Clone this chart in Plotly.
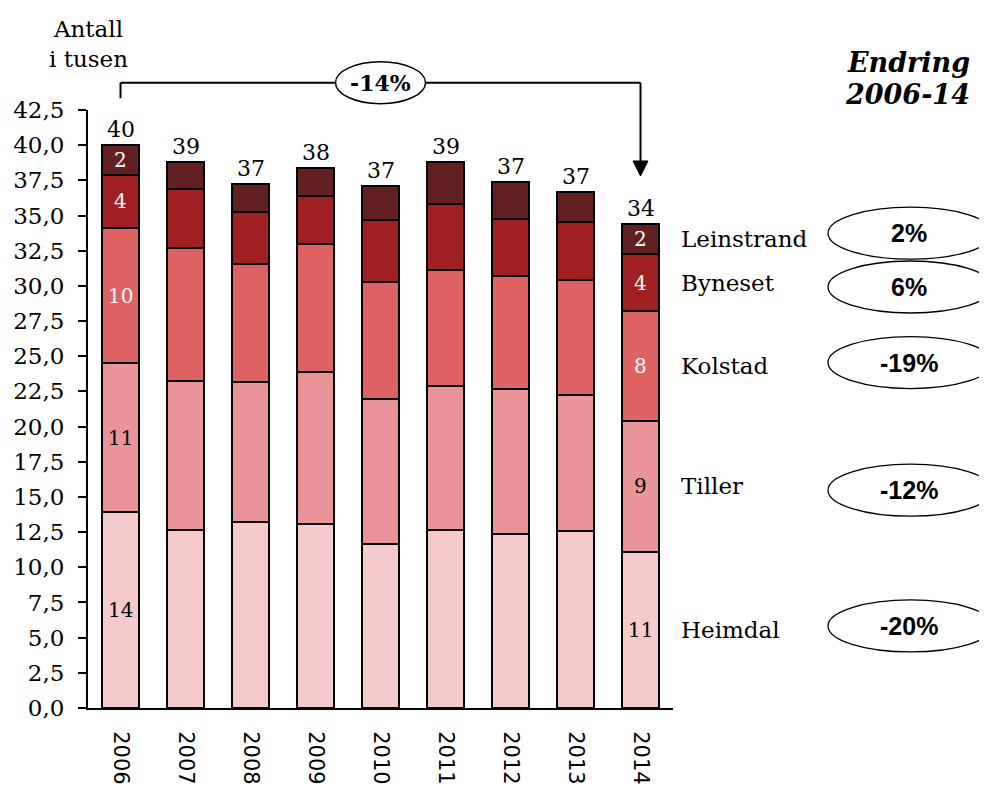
import plotly.graph_objects as go

# ---------------- data (thousands) ----------------
years = [2006, 2007, 2008, 2009, 2010, 2011, 2012, 2013, 2014]
districts = ["Heimdal", "Tiller", "Kolstad", "Byneset", "Leinstrand"]
heimdal = [13.9, 12.62, 13.19, 13.07, 11.65, 12.62, 12.36, 12.6, 11.1]
tiller = [10.6, 10.65, 9.96, 10.79, 10.34, 10.25, 10.32, 9.68, 9.33]
kolstad = [9.63, 9.4, 8.38, 9.14, 8.28, 8.25, 8.02, 8.13, 7.81]
byneset = [3.78, 4.25, 3.72, 3.39, 4.39, 4.7, 4.08, 4.13, 4.0]
leinstrand = [2.12, 1.89, 2.02, 1.99, 2.44, 2.99, 2.61, 2.14, 2.16]
change_labels = ["-20%", "-12%", "-19%", "6%", "2%"]   # Heimdal..Leinstrand
total_change_label = "-14%"
y_tick_values = [0, 2.5, 5, 7.5, 10, 12.5, 15, 17.5, 20, 22.5, 25, 27.5,
                 30, 32.5, 35, 37.5, 40, 42.5]
y_title = "Antall<br>i tusen"
change_title = ["Endring", "2006-14"]

# ---------------- styles ----------------
series = [heimdal, tiller, kolstad, byneset, leinstrand]
colors = ["#F4CACB", "#E99496", "#DF6263", "#A01F21", "#622120"]
inner_text_colors = ["black", "black", "white", "white", "white"]
ellipse_shift_px = [-4, 4, -3, 4.5, -6]   # small vertical nudges of the ellipses

SERIF = "DejaVu Serif"
SANS = "DejaVu Sans"
ARIAL = "Liberation Sans"

OFF = 8                      # page body margin
W, H = 987 - OFF, 793 - OFF
ML, MT = 80, 102
PW, PH = 585, 598
MR = W - ML - PW
MB = H - MT - PH
PLOT_RIGHT = OFF + ML + PW   # in page pixels
PLOT_TOP = OFF + MT
XR = (2005.5, 2014.5)
YR = (0, 42.5)


def xp(v):
    return (v - XR[0]) / (XR[1] - XR[0])


def yp(v):
    return (v - YR[0]) / (YR[1] - YR[0])


def px_x(dx):
    return dx / PW


def px_y(dy):
    return dy / PH


fig = go.Figure()
for name, vals, col in zip(districts, series, colors):
    fig.add_trace(go.Bar(
        x=years, y=vals, name=name, width=0.56,
        marker=dict(color=col, line=dict(color="black", width=2)),
        hoverinfo="x+y+name",
    ))

annotations = []
shapes = []

# totals above bars
totals = [sum(s[i] for s in series) for i in range(len(years))]
for yr, tot in zip(years, totals):
    annotations.append(dict(x=yr, y=tot, xref="x", yref="y", text=str(round(tot)),
                            showarrow=False, yanchor="bottom", yshift=1,
                            font=dict(family=SERIF, size=22, color="black")))

# inner labels for first and last year
for idx in (0, len(years) - 1):
    base = 0
    for k, vals in enumerate(series):
        v = vals[idx]
        annotations.append(dict(x=years[idx], y=base + v / 2, xref="x", yref="y",
                                text=str(round(v)), showarrow=False,
                                xanchor="center", yanchor="middle",
                                font=dict(family=SERIF, size=20,
                                          color=inner_text_colors[k])))
        base += v

# district names and change ellipses on the right
base = 0
last = len(years) - 1
ex0 = 1 + px_x(828 - PLOT_RIGHT)
ex1 = 1 + px_x(993 - PLOT_RIGHT)
for k, (name, vals) in enumerate(zip(districts, series)):
    mid = base + vals[last] / 2
    base += vals[last]
    annotations.append(dict(x=1, y=yp(mid), xref="paper", yref="paper", text=name,
                            showarrow=False, xanchor="left", yanchor="middle",
                            xshift=6,
                            font=dict(family=SERIF, size=23, color="black")))
    cy = yp(mid) - px_y(ellipse_shift_px[k])
    shapes.append(dict(type="circle", xref="paper", yref="paper",
                       x0=ex0, x1=ex1, y0=cy - px_y(26), y1=cy + px_y(26),
                       line=dict(color="black", width=1.3), fillcolor="white",
                       layer="above"))
    annotations.append(dict(x=(ex0 + ex1) / 2 - px_x(1), y=cy, xref="paper", yref="paper",
                            text="<b>" + change_labels[k] + "</b>",
                            showarrow=False, xanchor="center", yanchor="middle",
                            font=dict(family=ARIAL, size=25, color="black")))

# bracket with arrow from first to last bar
y_line = 1 + px_y(PLOT_TOP - 82.7)
y_left_end = 1 + px_y(PLOT_TOP - 98.3)
y_tip = yp(totals[-1]) + px_y(48)
tri_h = px_y(15)
tri_w = px_x(7.5)
x_first, x_last = xp(years[0]), xp(years[-1])
shapes.append(dict(type="line", xref="paper", yref="paper", x0=x_first, x1=x_first,
                   y0=y_left_end, y1=y_line, line=dict(color="black", width=2)))
shapes.append(dict(type="line", xref="paper", yref="paper", x0=x_first, x1=x_last,
                   y0=y_line, y1=y_line, line=dict(color="black", width=2)))
shapes.append(dict(type="line", xref="paper", yref="paper", x0=x_last, x1=x_last,
                   y0=y_line, y1=y_tip + tri_h - px_y(1), line=dict(color="black", width=2)))
shapes.append(dict(type="path", xref="paper", yref="paper",
                   path=f"M {x_last - tri_w} {y_tip + tri_h} L {x_last + tri_w} {y_tip + tri_h} L {x_last} {y_tip} Z",
                   fillcolor="black", line=dict(color="black", width=1)))
x_mid = xp((years[0] + years[-1]) / 2)
shapes.append(dict(type="circle", xref="paper", yref="paper",
                   x0=x_mid - px_x(45), x1=x_mid + px_x(45),
                   y0=y_line - px_y(21), y1=y_line + px_y(21),
                   line=dict(color="black", width=1.5), fillcolor="white", layer="above"))
annotations.append(dict(x=x_mid, y=y_line, xref="paper", yref="paper",
                        text="<b>" + total_change_label + "</b>", showarrow=False,
                        xanchor="center", yanchor="middle",
                        font=dict(family=SERIF, size=22, color="black")))

# y title
annotations.append(dict(x=0, y=1 + px_y(PLOT_TOP - 44), xref="paper", yref="paper",
                        text=y_title, showarrow=False, xanchor="center", yanchor="middle",
                        font=dict(family=SERIF, size=23, color="black")))
# change title
x_title = 1 + px_x(972 - PLOT_RIGHT)
annotations.append(dict(x=x_title, y=1 + px_y(PLOT_TOP - 62), xref="paper",
                        yref="paper", text="<b><i>" + change_title[0] + "</i></b>",
                        showarrow=False, xanchor="right", yanchor="middle",
                        font=dict(family=SERIF, size=27, color="black")))
annotations.append(dict(x=x_title, y=1 + px_y(PLOT_TOP - 94), xref="paper",
                        yref="paper", text="<b><i>" + change_title[1] + "</i></b>",
                        showarrow=False, xanchor="right", yanchor="middle",
                        font=dict(family=SERIF, size=27, color="black")))

fig.update_layout(
    width=W, height=H,
    margin=dict(l=ML, r=MR, t=MT, b=MB, autoexpand=False),
    barmode="stack",
    showlegend=False,
    plot_bgcolor="white", paper_bgcolor="white",
    separators=", ",
    annotations=annotations,
    shapes=shapes,
)
fig.update_xaxes(range=list(XR), tickmode="array", tickvals=years,
                 ticktext=[str(y) for y in years], tickangle=90,
                 showline=True, linecolor="black", linewidth=2, ticks="",
                 showgrid=False, zeroline=False, automargin=False,
                 ticklabelstandoff=17,
                 tickfont=dict(family=SANS, size=21, color="black"))
fig.update_yaxes(range=list(YR), tickmode="array", tickvals=y_tick_values,
                 tickformat=".1f", showline=True, linecolor="black", linewidth=2,
                 ticks="outside", ticklen=8, tickwidth=2, tickcolor="black",
                 showgrid=False, zeroline=False, automargin=False,
                 ticklabelstandoff=9,
                 tickfont=dict(family=SERIF, size=23, color="black"))

fig.write_html("out.html")
